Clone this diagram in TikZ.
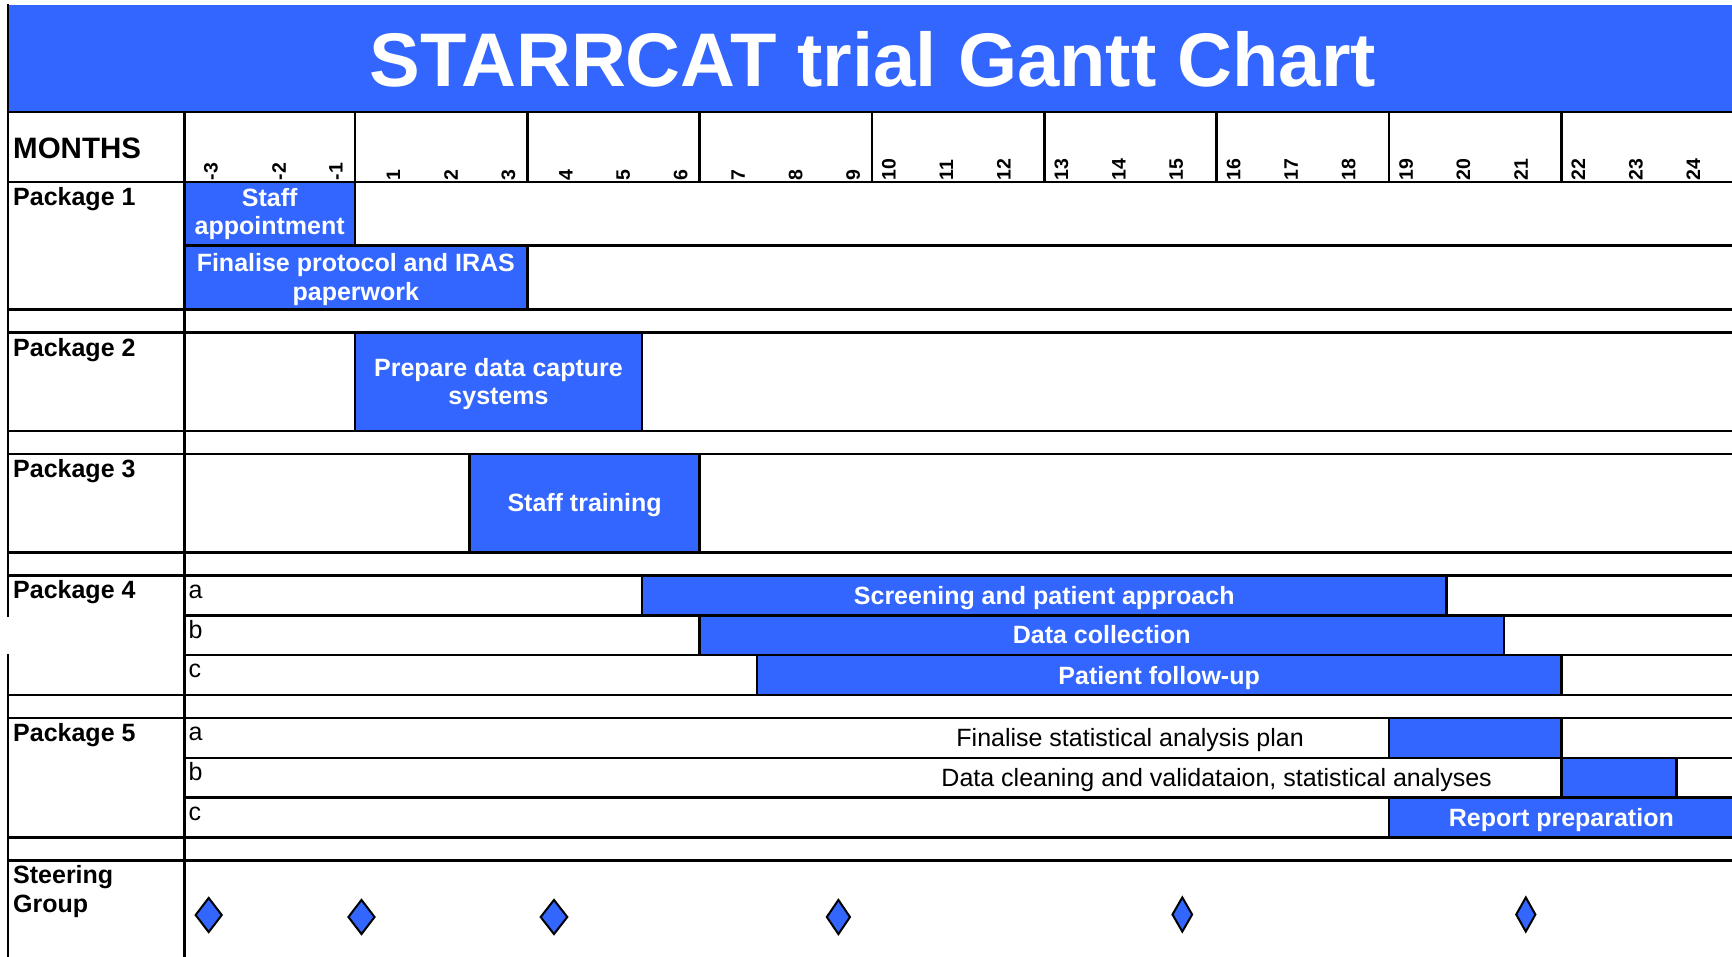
\documentclass[tikz,border=0pt]{standalone}
\usepackage{fontspec}
\setmainfont{Liberation Sans}
\usetikzlibrary{shapes.geometric}
\definecolor{barblue}{HTML}{3366FF}
\begin{document}
\begin{tikzpicture}[x=1pt,y=-1pt,
  gridline/.style={line width=2.6pt, line cap=rect},
  barbox/.style={fill=barblue, draw=black, line width=2.6pt},
  bartext/.style={text=white, font=\fontsize{25}{28.7}\selectfont\bfseries, align=center, inner sep=0pt},
  lbl/.style={font=\fontsize{25}{28.7}\selectfont\bfseries, anchor=base west, inner sep=0pt},
  sublbl/.style={font=\fontsize{25}{28.7}\selectfont, anchor=base west, inner sep=0pt},
  plaintext/.style={font=\fontsize{25}{28.7}\selectfont, anchor=base east, inner sep=0pt},
  mlbl/.style={font=\fontsize{19.5}{20}\selectfont\bfseries, rotate=90, anchor=west, inner sep=0pt},
  milestone/.style={shape=diamond, draw=black, line width=2pt, fill=barblue, inner sep=0pt, minimum height=35pt}
]
\useasboundingbox (0,0) rectangle (1732,956);
\fill[white] (0,0) rectangle (1732,956);
% title band
\fill[barblue] (8,5) rectangle (1740,112);
\node[text=white, font=\fontsize{76}{80}\selectfont\bfseries, inner sep=0pt] (title) at (873,59) {STARRCAT trial Gantt Chart};

% bars (fill + border)
\draw[barbox] (184.5,182) rectangle (354.85,245.5);
\draw[barbox] (184.5,245.5) rectangle (527.2,309.5);
\draw[barbox] (354.85,332.5) rectangle (642.1,431);
\draw[barbox] (469.75,454) rectangle (699.55,552.5);
\draw[barbox] (642.1,575.5) rectangle (1446.4,615.5);
\draw[barbox] (699.55,615.5) rectangle (1503.85,655);
\draw[barbox] (757,655) rectangle (1561.3,695);
\draw[barbox] (1388.95,718) rectangle (1561.3,758);
\draw[barbox] (1561.3,758) rectangle (1676.2,797.5);
\draw[barbox] (1388.95,797.5) rectangle (1745,837.5);

% full-width horizontal lines
\foreach \yy in {112,182,309.5,332.5,431,454,552.5,575.5,695,718,837.5,860.5}
  \draw[gridline] (8,\yy) -- (1740,\yy);
% month-area sub-row lines
\foreach \yy in {245.5,615.5,655,758,797.5}
  \draw[gridline] (184.5,\yy) -- (1740,\yy);
% divider and left border
\draw[gridline] (184.5,112) -- (184.5,960);
\draw[gridline] (8,5) -- (8,615.5);
\draw[gridline] (8,655) -- (8,960);
% quarter lines in header
\foreach \xx in {354.85,527.2,699.55,871.9,1044.25,1216.6,1388.95,1561.3}
  \draw[gridline] (\xx,112) -- (\xx,182);

% header text
\node[font=\fontsize{29.5}{30}\selectfont\bfseries, anchor=base west, inner sep=0pt] (months) at (13,158) {MONTHS};
\foreach \lab/\xx [count=\i] in {-3/211,-2/279,-1/336,1/393.5,2/450.95,3/508.4,4/565.85,5/623.3,6/680.75,7/738.2,8/795.65,9/853.1,10/889,11/946.45,12/1003.9,13/1061.35,14/1118.8,15/1176.25,16/1233.7,17/1291.15,18/1348.6,19/1406.05,20/1463.5,21/1520.95,22/1578.4,23/1635.85,24/1693.3}
  \node[mlbl] (mon\i) at (\xx,180.5) {\lab};

% row labels
\node[lbl] (p1) at (13,205.5) {Package 1};
\node[lbl] (p2) at (13,356) {Package 2};
\node[lbl] (p3) at (13,477.5) {Package 3};
\node[lbl] (p4) at (13,598.5) {Package 4};
\node[lbl] (p5) at (13,741) {Package 5};
\node[lbl] (sg1) at (13,883.5) {Steering};
\node[lbl] (sg2) at (13,912.2) {Group};

% sub-row letters
\node[sublbl] (p4a) at (188.5,598) {a};
\node[sublbl] (p4b) at (188.5,638) {b};
\node[sublbl] (p4c) at (188.5,677.5) {c};
\node[sublbl] (p5a) at (188.5,740.5) {a};
\node[sublbl] (p5b) at (188.5,780.5) {b};
\node[sublbl] (p5c) at (188.5,820) {c};

% bar texts
\node[bartext] (tsa) at (269.7,214) {Staff\\appointment};
\node[bartext] (tfp) at (355.8,279.5) {Finalise protocol and IRAS\\paperwork};
\node[bartext] (tpd) at (498.5,384) {Prepare data capture\\systems};
\node[bartext] (tst) at (584.6,505.5) {Staff training};
\node[bartext] (tsp) at (1044.25,598) {Screening and patient approach};
\node[bartext] (tdc) at (1101.7,634.5) {Data collection};
\node[bartext] (tpf) at (1159.15,678) {Patient follow-up};
\node[bartext] (trp) at (1561.3,820) {Report preparation};
\node[plaintext] (tsap) at (1304,746) {Finalise statistical analysis plan};
\node[plaintext] (tdcv) at (1492,786) {Data cleaning and validataion, statistical analyses};

% steering group milestones
\node[milestone, minimum width=27pt] (m1) at (208.7,915) {};
\node[milestone, minimum width=27pt] (m2) at (361.5,917) {};
\node[milestone, minimum width=27.5pt] (m3) at (554,917) {};
\node[milestone, minimum width=24pt] (m4) at (838.4,917) {};
\node[milestone, minimum width=20.5pt] (m5) at (1182.3,914.5) {};
\node[milestone, minimum width=20pt] (m6) at (1525.8,914.5) {};
\end{tikzpicture}
\end{document}
